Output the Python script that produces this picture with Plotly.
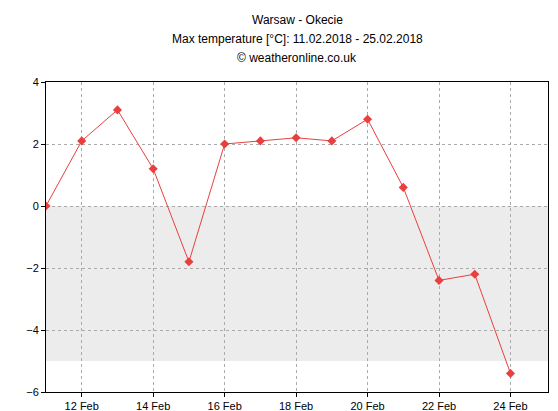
import plotly.graph_objs as go

days = [11, 12, 13, 14, 15, 16, 17, 18, 19, 20, 21, 22, 23, 24]
temps = [0, 2.1, 3.1, 1.2, -1.8, 2.0, 2.1, 2.2, 2.1, 2.8, 0.6, -2.4, -2.2, -5.4]
tick_days = [12, 14, 16, 18, 20, 22, 24]
tick_labels = ["12 Feb", "14 Feb", "16 Feb", "18 Feb", "20 Feb", "22 Feb", "24 Feb"]
y_ticks = [-6, -4, -2, 0, 2, 4]
title_lines = ["Warsaw - Okecie", "Max temperature [°C]: 11.02.2018 - 25.02.2018", "© weatheronline.co.uk"]

fig = go.Figure()

# grey band below zero
fig.add_shape(type="rect", xref="x", yref="y", x0=11, x1=25.05, y0=-5, y1=0,
              fillcolor="#ececec", line_width=0, layer="below")

fig.add_trace(go.Scatter(x=days, y=temps, mode="lines+markers",
                         line=dict(color="#e8403f", width=1),
                         marker=dict(symbol="diamond", size=7, color="#e8403f")))

# title as annotations (keeps margins fixed)
for i, line in enumerate(title_lines):
    fig.add_annotation(text=line, xref="paper", yref="paper", x=0.5, y=1,
                       yshift=62 - i * 19, showarrow=False, xanchor="center",
                       yanchor="middle", font=dict(size=12))

fig.update_layout(
    width=558, height=411,
    margin=dict(l=38, r=18, t=74, b=27, autoexpand=False),
    plot_bgcolor="white", paper_bgcolor="white",
    showlegend=False,
    font=dict(family="Liberation Sans, Arial", size=12, color="black"),
)
fig.update_xaxes(range=[11, 25.05], tickvals=tick_days, ticktext=tick_labels,
                 showgrid=True, gridcolor="#aaaaaa", griddash="dot", gridwidth=1,
                 showline=True, linecolor="black", mirror=True, ticks="outside",
                 ticklen=4, tickcolor="black", zeroline=False, tickfont=dict(size=11),
                 automargin=False)
fig.update_yaxes(range=[-6, 4], tickvals=y_ticks,
                 showgrid=True, gridcolor="#aaaaaa", griddash="dot", gridwidth=1,
                 showline=True, linecolor="black", mirror=True, ticks="outside",
                 ticklen=4, tickcolor="black", zeroline=False, tickfont=dict(size=11),
                 automargin=False)

fig.write_html("out.html")
